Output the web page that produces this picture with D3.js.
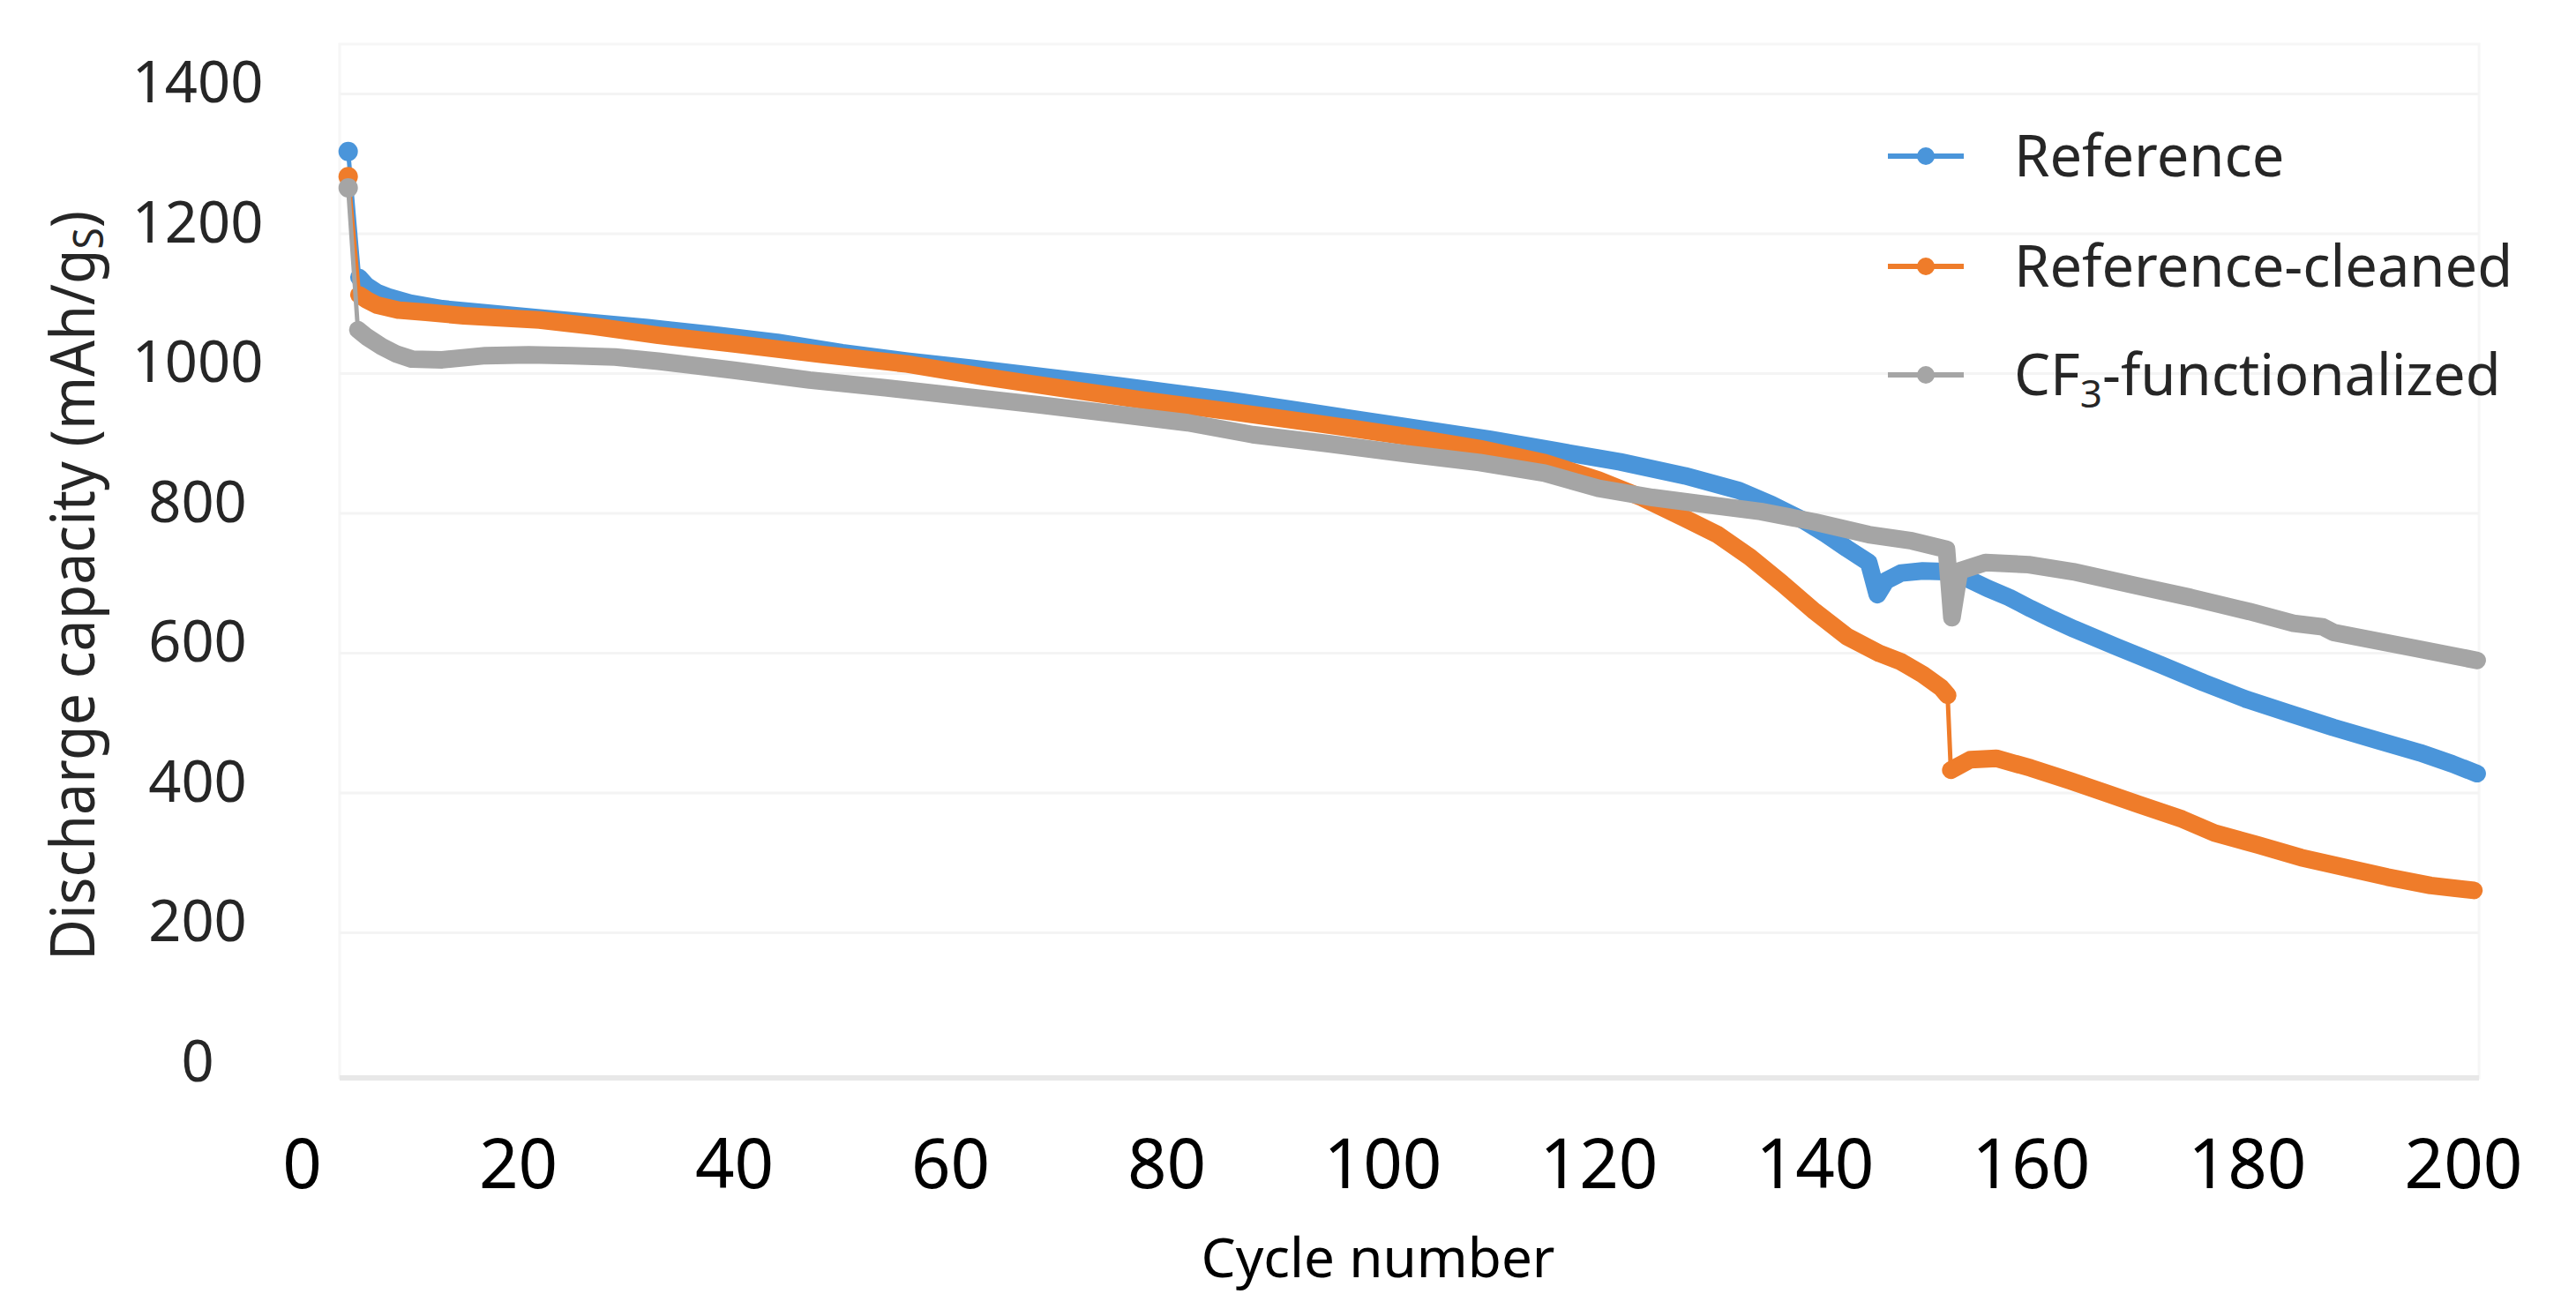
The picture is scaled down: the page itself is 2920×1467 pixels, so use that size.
<!DOCTYPE html>
<html>
<head>
<meta charset="utf-8">
<script src="https://cdn.jsdelivr.net/npm/d3@7"></script>
<style>
  html, body { margin: 0; padding: 0; background: #ffffff; }
  svg { display: block; }
  text { font-family: "Noto Sans", "Open Sans", sans-serif; }
</style>
</head>
<body>
<script>
// ---------- data ----------
const xTicks = [0, 20, 40, 60, 80, 100, 120, 140, 160, 180, 200];
const yTicks = [0, 200, 400, 600, 800, 1000, 1200, 1400];

const seriesNames = ["Reference", "Reference-cleaned", "CF3-functionalized"];
const seriesColors = ["#4a95da", "#ef7c2a", "#a5a5a5"];

const refCycles = [4.3, 5.3, 6, 7, 8, 10, 13, 17, 22, 27, 32, 38, 44, 50, 56, 62, 68, 74, 80, 86, 92, 98, 104, 110, 116, 122, 128, 133, 136, 139, 141, 143, 145, 145.8, 146.6, 148, 150, 152, 154, 156, 158, 160, 162, 164, 168, 172, 176, 180, 184, 188, 192, 196, 199, 201.3];
const refValues = [1300, 1120, 1108, 1098, 1092, 1083, 1075, 1069, 1062, 1055, 1048, 1038, 1027, 1012, 1000, 990, 979, 968, 956, 944, 930, 916, 902, 888, 872, 856, 836, 815, 795, 772, 753, 732, 712, 666, 686, 697, 700, 699, 690, 675, 662, 646, 631, 617, 591, 566, 540, 516, 496, 476, 458, 440, 424, 410];

const cleanCycles = [4.3, 5.3, 6, 7, 9, 11.5, 15, 22, 27, 33, 40, 48, 56, 63, 70, 78, 86, 94, 102, 109, 115, 120, 124, 128, 131, 134, 137, 140, 143, 146, 148, 150, 151.7, 152.3, 152.6, 154.4, 156.8, 160, 163.6, 167, 170, 174, 177, 181, 185, 189, 193, 197, 201];
const cleanValues = [1264, 1095, 1088, 1080, 1073, 1070, 1065, 1059, 1050, 1037, 1025, 1010, 996, 978, 962, 944, 928, 911, 893, 875, 855, 830, 805, 775, 752, 720, 682, 642, 606, 582, 570, 552, 533, 522, 415, 430, 432, 418, 400, 382, 366, 345, 325, 308, 290, 276, 262, 250, 243];

const cf3Cycles = [4.3, 5.2, 6, 7.4, 8.8, 10.2, 13, 17, 21, 25, 29, 33, 40, 47, 54, 61, 68, 75, 82, 88, 95, 102, 109, 115, 120, 125, 130, 135, 140, 145, 149, 152.2, 152.7, 153.4, 155.8, 159.8, 163.9, 169.4, 174.8, 180.2, 184.3, 187, 188, 192, 196, 201.3];
const cf3Values = [1248, 1045, 1035, 1021, 1010, 1003, 1002, 1008, 1009, 1008, 1006, 1000, 987, 973, 962, 950, 938, 925, 912, 895, 882, 868, 855, 840, 818, 805, 795, 785, 770, 752, 743, 731, 633, 700, 712, 709, 699, 680, 662, 642, 625, 620, 612, 600, 588, 572];

const seriesCycles = [refCycles, cleanCycles, cf3Cycles];
const seriesValues = [refValues, cleanValues, cf3Values];

// ---------- layout ----------
const W = 2920, H = 1467;
const svg = d3.select("body").append("svg").attr("width", W).attr("height", H);

const x = d3.scaleLinear().domain([0, 200]).range([342, 2792]);
const y = d3.scaleLinear().domain([0, 1400]).range([1202, 92.5]);

const plotLeft = 385, plotRight = 2810, plotTop = 50, plotBottom = 1222;

// faint plot frame / gridlines
const g = svg.append("g");
g.append("rect").attr("x", plotLeft).attr("y", plotTop)
  .attr("width", plotRight - plotLeft).attr("height", plotBottom - plotTop)
  .attr("fill", "none").attr("stroke", "#f6f6f6").attr("stroke-width", 3);
g.selectAll("line.grid").data(yTicks.filter(d => d > 0)).enter().append("line")
  .attr("class", "grid")
  .attr("x1", plotLeft).attr("x2", plotRight)
  .attr("y1", d => y(d) + 14).attr("y2", d => y(d) + 14)
  .attr("stroke", "#f4f4f4").attr("stroke-width", 3);
g.append("line").attr("x1", plotLeft).attr("x2", plotRight)
  .attr("y1", plotBottom).attr("y2", plotBottom)
  .attr("stroke", "#e8e8e8").attr("stroke-width", 6);

// axes labels (d3 axes, domain/ticks hidden)
const yAxis = svg.append("g").attr("transform", "translate(224,0)")
  .call(d3.axisLeft(y).tickValues(yTicks).tickSize(0).tickPadding(0).tickFormat(d3.format("d")));
yAxis.select(".domain").remove();
yAxis.selectAll("text").attr("text-anchor", "middle").attr("x", 0)
  .attr("font-size", 65).attr("fill", "#262626").attr("dy", "0.36em")
  .attr("font-family", "'Noto Sans', sans-serif");

const xAxis = svg.append("g").attr("transform", "translate(0,1292)")
  .call(d3.axisBottom(x).tickValues(xTicks).tickSize(0).tickPadding(0).tickFormat(d3.format("d")));
xAxis.select(".domain").remove();
xAxis.selectAll("text").attr("y", 0).attr("dy", "0.71em")
  .attr("font-size", 78).attr("fill", "#000").attr("font-family", "'Noto Sans', sans-serif");

// axis titles
svg.append("text")
  .attr("transform", "translate(107,664) rotate(-90)")
  .attr("text-anchor", "middle")
  .attr("font-size", 70).attr("fill", "#262626")
  .attr("textLength", 850).attr("lengthAdjust", "spacingAndGlyphs")
  .text("Discharge capacity (mAh/g")
  .append("tspan").attr("font-size", 48).attr("dy", 10).text("S")
  .append("tspan").attr("font-size", 70).attr("dy", -10).text(")");

svg.append("text")
  .attr("x", 1562).attr("y", 1448)
  .attr("text-anchor", "middle")
  .attr("font-size", 62).attr("fill", "#000")
  .text("Cycle number");

// ---------- series ----------
const JUMP = 105; // value jump above which the marker band is broken
const lineGen = d3.line().x(d => x(d[0])).y(d => y(d[1]));

seriesNames.forEach((name, i) => {
  const pts = seriesCycles[i].map((c, k) => [c, seriesValues[i][k]]);
  const color = seriesColors[i];
  const sg = svg.append("g");
  // thin connecting line
  sg.append("path").attr("d", lineGen(pts)).attr("fill", "none")
    .attr("stroke", color).attr("stroke-width", 5).attr("stroke-linejoin", "round");
  // thick marker band, broken at large jumps
  const segs = [];
  let cur = [pts[0]];
  for (let k = 1; k < pts.length; k++) {
    if (Math.abs(pts[k][1] - pts[k - 1][1]) > JUMP) { segs.push(cur); cur = [pts[k]]; }
    else cur.push(pts[k]);
  }
  segs.push(cur);
  segs.filter(s => s.length > 1).forEach(s => {
    sg.append("path").attr("d", lineGen(s)).attr("fill", "none")
      .attr("stroke", color).attr("stroke-width", 20)
      .attr("stroke-linejoin", "round").attr("stroke-linecap", "round");
  });
  segs.filter(s => s.length === 1).forEach(s => {
    sg.append("circle").attr("cx", x(s[0][0])).attr("cy", y(s[0][1]))
      .attr("r", 11).attr("fill", color);
  });
});

// ---------- legend ----------
const legendY = [177, 302, 425];
const leg = svg.append("g");
seriesNames.forEach((name, i) => {
  const gy = legendY[i];
  leg.append("line").attr("x1", 2140).attr("x2", 2226).attr("y1", gy).attr("y2", gy)
    .attr("stroke", seriesColors[i]).attr("stroke-width", 6);
  leg.append("circle").attr("cx", 2183).attr("cy", gy).attr("r", 10).attr("fill", seriesColors[i]);
  const t = leg.append("text").attr("x", 2283).attr("y", gy).attr("dy", "0.36em")
    .attr("font-size", 65).attr("fill", "#262626");
  if (name === "CF3-functionalized") {
    t.append("tspan").text("CF");
    t.append("tspan").attr("font-size", 44).attr("dy", 14).text("3");
    t.append("tspan").attr("dy", -14).text("-functionalized");
  } else {
    t.text(name);
  }
});
</script>
</body>
</html>
